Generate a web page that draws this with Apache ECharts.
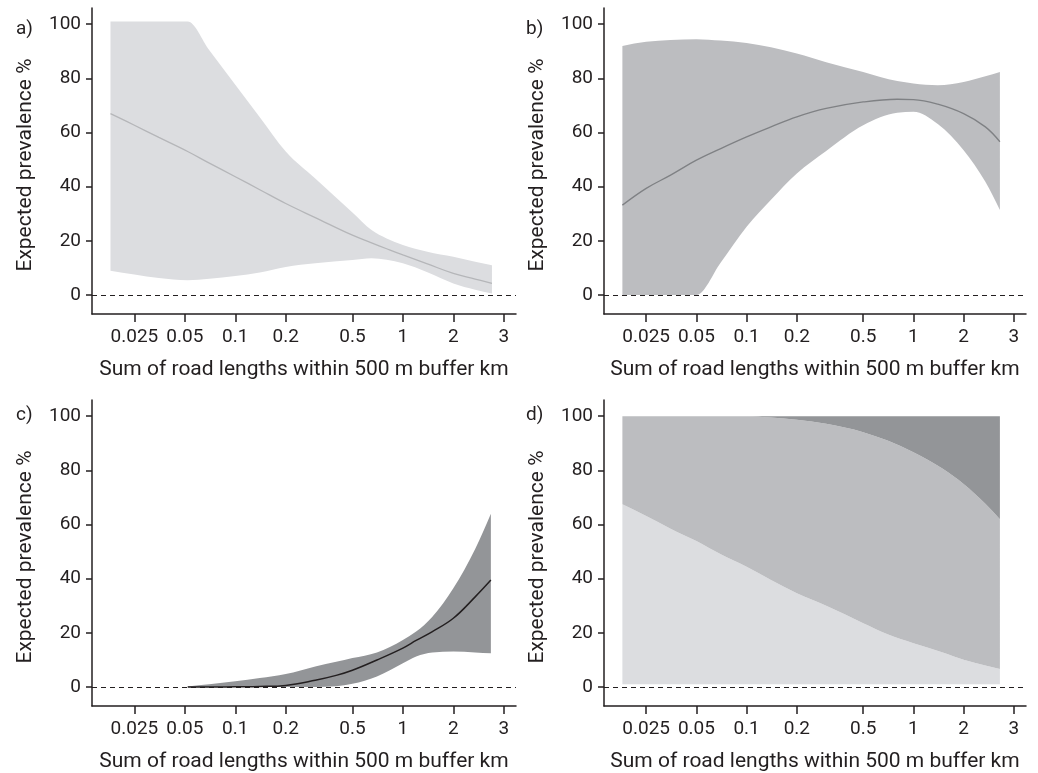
<!DOCTYPE html>
<html>
<head>
<meta charset="utf-8">
<script src="https://cdn.jsdelivr.net/npm/echarts@6/dist/echarts.min.js"></script>
<style>
  html, body { margin: 0; padding: 0; background: #fff; }
  #chart { width: 1038px; height: 773px; }
</style>
</head>
<body>
<div id="chart"></div>
<script>
// tick labels on the log x axis, and where each label sits on the drawn scale (km)
const xTickLabels = ["0.025", "0.05", "0.1", "0.2", "0.5", "1", "2", "3"];
const xTickAt = [0.025, 0.05, 0.1, 0.2, 0.5, 1, 2, 4];
const yTicks = [0, 20, 40, 60, 80, 100];

// a) road length only
const xA = [0.018, 0.025, 0.035, 0.052, 0.07, 0.1, 0.14, 0.2, 0.3, 0.5, 0.65, 0.8, 1, 1.4, 2, 2.7, 3.4];
const meanA = [67, 62.7, 58.2, 53, 48.7, 43.7, 38.9, 33.8, 28.6, 22.1, 19.3, 17.1, 14.8, 11.5, 8, 5.9, 4.3];
const upperA = [101, 101, 101, 101, 90.4, 77.7, 65.7, 53, 43, 30.5, 24, 20.9, 18.5, 16, 14.1, 12.3, 11];
const lowerA = [9, 7.6, 6.3, 5.5, 6, 7, 8.3, 10.4, 11.7, 12.9, 13.6, 13, 11.7, 8.4, 4.3, 2, 0.6];

// b)
const xB = [0.018, 0.025, 0.035, 0.05, 0.07, 0.1, 0.14, 0.2, 0.3, 0.5, 0.8, 1, 1.4, 2, 2.7, 3.3];
const meanB = [33.2, 39.4, 44.3, 49.8, 54.1, 58.4, 62.1, 65.8, 68.9, 71.3, 72.3, 72.2, 70.5, 67, 62.1, 56.6];
const upperB = [92, 93.5, 94.2, 94.5, 94, 93.1, 91.5, 89.2, 86, 82.4, 79, 78.1, 77.5, 78.7, 80.8, 82.4];
const lowerB = [0, 0, 0, 0, 12, 25.2, 35.2, 44.9, 53.2, 62.7, 67.3, 67.7, 63.2, 53.5, 41.8, 31.4];

// c)
const xC = [0.052, 0.07, 0.1, 0.14, 0.2, 0.3, 0.4, 0.5, 0.7, 1, 1.2, 1.5, 2, 2.7, 3.35];
const meanC = [0, 0, 0.1, 0.2, 0.6, 2.5, 4.3, 6.2, 10, 14.4, 17.2, 20.5, 25.4, 33.3, 39.5];
const upperC = [0.2, 1, 2.1, 3.3, 4.8, 7.6, 9.3, 10.7, 12.8, 17.4, 20.5, 26, 36.5, 51, 64];
const lowerC = [0, 0, 0, 0, 0, 0, 0.3, 1.2, 3.9, 8.8, 11.3, 12.8, 13.1, 12.8, 12.5];

// d) stacked shares
const xD = [0.018, 0.025, 0.035, 0.05, 0.07, 0.1, 0.14, 0.2, 0.3, 0.5, 0.7, 1, 1.5, 2, 2.7, 3.3];
const floorD = [1, 1, 1, 1, 1, 1, 1, 1, 1, 1, 1, 1, 1, 1, 1, 1];
const lowD = [67.5, 63.2, 58.5, 53.9, 49, 44.4, 39.5, 34.6, 30, 23.6, 19.5, 16.2, 12.8, 10.1, 8, 6.7];
const highD = [100, 100, 100, 100, 100, 100, 99.5, 98.7, 97.2, 94.1, 91, 86.7, 80.6, 75, 67.7, 62];
const topD = [100, 100, 100, 100, 100, 100, 100, 100, 100, 100, 100, 100, 100, 100, 100, 100];

const ink = "#231f20";
const font = "Roboto";

const pts = (xs, ys) => xs.map((x, i) => [Math.log10(x), ys[i]]);
const rows = (xs, lo, hi) => xs.map((x, i) => [Math.log10(x), lo[i], hi[i]]);

const grids = [
    { left: 92, top: 8, width: 424, height: 306 },
    { left: 604, top: 8, width: 422, height: 306 },
    { left: 92, top: 400, width: 424, height: 307 },
    { left: 604, top: 400, width: 422, height: 307 },
];

const tickPos = xTickAt.map((v) => Math.log10(v));

const xAxes = grids.map((g, i) => ({
    type: "value",
    gridIndex: i,
    min: -1.855,
    max: 0.675,
    name: "Sum of road lengths within 500 m buffer km",
    nameLocation: "middle",
    nameGap: 45,
    nameTextStyle: { color: ink, fontSize: 21, fontFamily: font },
    axisLine: { show: true, onZero: false, lineStyle: { color: ink, width: 1.5 } },
    axisTick: { show: true, length: 8, lineStyle: { color: ink, width: 1.5 }, customValues: tickPos },
    axisLabel: {
        color: ink,
        fontSize: 19,
        fontFamily: font,
        margin: 14,
        customValues: tickPos,
        formatter: (v) => {
            let best = 0;
            tickPos.forEach((p, k) => { if (Math.abs(p - v) < Math.abs(tickPos[best] - v)) best = k; });
            return xTickLabels[best];
        },
    },
    splitLine: { show: false },
}));

const yAxes = grids.map((g, i) => ({
    type: "value",
    gridIndex: i,
    min: -7,
    max: 106,
    name: "Expected prevalence %",
    nameLocation: "middle",
    nameGap: 56,
    nameTextStyle: { color: ink, fontSize: 21, fontFamily: font, padding: [0, 8, 0, 0] },
    axisLine: { show: true, onZero: false, lineStyle: { color: ink, width: 1.5 } },
    axisTick: { show: true, length: 6, lineStyle: { color: ink, width: 1.5 }, customValues: yTicks },
    axisLabel: { color: ink, fontSize: 19, fontFamily: font, margin: 11, customValues: yTicks },
    splitLine: { show: false },
}));

const zeroLine = {
    silent: true,
    symbol: "none",
    label: { show: false },
    lineStyle: { color: ink, type: [5, 4], width: 1.2 },
    data: [{ yAxis: 0 }],
    z: 10,
};

// monotone cubic segments through pixel points (x ascending): [c1, c2] per segment
function monoSegs(p) {
    const n = p.length;
    const h = [], s = [], t = [];
    for (let i = 0; i < n - 1; i++) {
        h.push(p[i + 1][0] - p[i][0]);
        s.push((p[i + 1][1] - p[i][1]) / h[i]);
    }
    for (let i = 1; i < n - 1; i++) {
        const q = (s[i - 1] * h[i] + s[i] * h[i - 1]) / (h[i - 1] + h[i]);
        t[i] = (Math.sign(s[i - 1]) + Math.sign(s[i])) * Math.min(Math.abs(s[i - 1]), Math.abs(s[i]), 0.5 * Math.abs(q)) || 0;
    }
    t[0] = n > 2 ? (3 * s[0] - t[1]) / 2 : s[0];
    t[n - 1] = n > 2 ? (3 * s[n - 2] - t[n - 2]) / 2 : s[0];
    const segs = [];
    for (let i = 0; i < n - 1; i++) {
        const d = h[i] / 3;
        segs.push([
            [p[i][0] + d, p[i][1] + t[i] * d],
            [p[i + 1][0] - d, p[i + 1][1] - t[i + 1] * d],
        ]);
    }
    return segs;
}

// shaded area between two curves, drawn through the axis scales
function band(idx, data, color) {
    return {
        type: "custom",
        xAxisIndex: idx,
        yAxisIndex: idx,
        data: data,
        silent: true,
        z: 2,
        renderItem: (params, api) => {
            if (params.dataIndexInside !== 0) return null;
            const n = params.dataInsideLength;
            const top = [], bot = [];
            for (let k = 0; k < n; k++) {
                const x = api.value(0, k);
                bot.push(api.coord([x, api.value(1, k)]));
                top.push(api.coord([x, api.value(2, k)]));
            }
            const st = monoSegs(top), sb = monoSegs(bot);
            let d = `M${top[0][0]},${top[0][1]}`;
            st.forEach((g, i) => { d += ` C${g[0][0]},${g[0][1]} ${g[1][0]},${g[1][1]} ${top[i + 1][0]},${top[i + 1][1]}`; });
            d += ` L${bot[n - 1][0]},${bot[n - 1][1]}`;
            for (let i = n - 2; i >= 0; i--) {
                const g = sb[i];
                d += ` C${g[1][0]},${g[1][1]} ${g[0][0]},${g[0][1]} ${bot[i][0]},${bot[i][1]}`;
            }
            d += " Z";
            return { type: "path", shape: { pathData: d }, style: { fill: color } };
        },
    };
}

function meanLine(idx, xs, ys, color, width) {
    return {
        type: "line", xAxisIndex: idx, yAxisIndex: idx,
        data: pts(xs, ys), smooth: 0.4, symbol: "none",
        lineStyle: { color: color, width: width },
        markLine: zeroLine,
        z: 5,
    };
}

const series = [
    band(0, rows(xA, lowerA, upperA), "#dcdde0"),
    meanLine(0, xA, meanA, "#b5b6b9", 1.3),
    band(1, rows(xB, lowerB, upperB), "#bcbdc0"),
    meanLine(1, xB, meanB, "#7f8184", 1.3),
    band(2, rows(xC, lowerC, upperC), "#939598"),
    meanLine(2, xC, meanC, "#231f20", 1.5),
    band(3, rows(xD, floorD, lowD), "#dcdde0"),
    band(3, rows(xD, lowD, highD), "#bcbdc0"),
    band(3, rows(xD, highD, topD), "#939598"),
    {
        type: "line", xAxisIndex: 3, yAxisIndex: 3,
        data: pts(xD, floorD), symbol: "none", lineStyle: { opacity: 0 },
        markLine: zeroLine,
    },
];

const chart = echarts.init(document.getElementById("chart"), undefined, { renderer: "canvas" });

chart.setOption({
    backgroundColor: "#ffffff",
    animation: false,
    title: [
        { text: "a)", left: 11, top: 15 },
        { text: "b)", left: 521, top: 15 },
        { text: "c)", left: 11, top: 401 },
        { text: "d)", left: 521, top: 401 },
    ].map((t) => ({ ...t, textStyle: { color: ink, fontSize: 19, fontWeight: "normal", fontFamily: font } })),
    grid: grids,
    xAxis: xAxes,
    yAxis: yAxes,
    series: series,
});
</script>
</body>
</html>
